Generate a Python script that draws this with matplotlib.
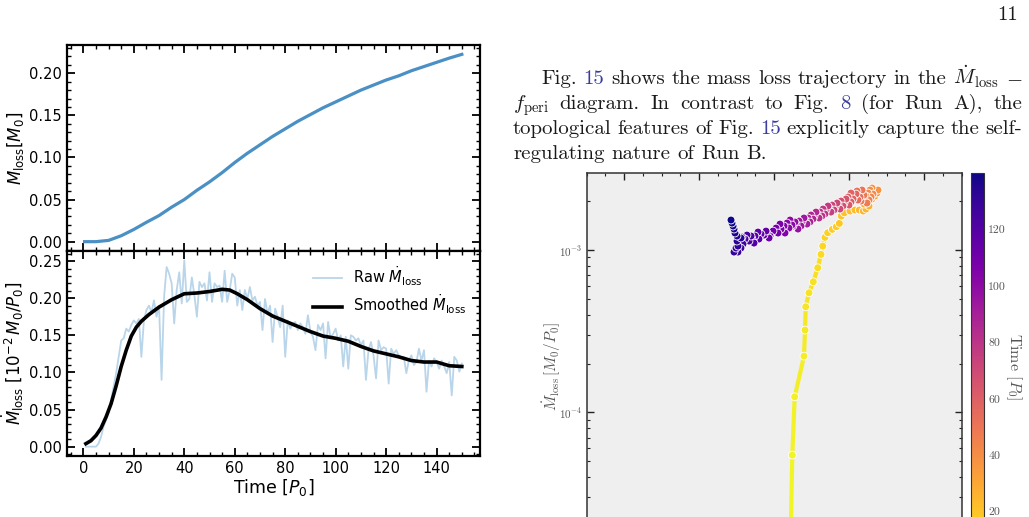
import numpy as np
import matplotlib
matplotlib.use("Agg")
import matplotlib.pyplot as plt
import matplotlib.colors as mcolors
from matplotlib.collections import LineCollection
from matplotlib.ticker import AutoMinorLocator, MultipleLocator, FuncFormatter, LogLocator, NullFormatter

plt.rcParams['font.family'] = ['DejaVu Sans']
plt.rcParams['mathtext.fontset'] = 'cm'

# ---------------- data: left chart ----------------
cum_t = [0.5, 5, 10, 15, 20, 25, 30, 35, 40, 45, 50, 55, 60, 65, 70, 75, 80, 85, 90, 95,
         100, 105, 110, 115, 120, 125, 130, 135, 140, 145, 150]
cum_m = [0.0, 0.0, 0.0015, 0.007, 0.0145, 0.023, 0.031, 0.041, 0.050, 0.061, 0.071, 0.082,
         0.094, 0.105, 0.115, 0.125, 0.134, 0.143, 0.151, 0.159, 0.166, 0.173, 0.180, 0.186,
         0.192, 0.197, 0.203, 0.208, 0.213, 0.218, 0.2225]

raw_t = np.arange(1, 151)
raw_v = [0, 0, 0, 0, 0, 0.004, 0.013, 0.027, 0.036, 0.045,
         0.063, 0.081, 0.099, 0.121, 0.143, 0.146, 0.159, 0.155, 0.164, 0.170,
         0.166, 0.172, 0.121, 0.170, 0.184, 0.190, 0.181, 0.197, 0.175, 0.190,
         0.090, 0.202, 0.242, 0.233, 0.220, 0.166, 0.211, 0.235, 0.193, 0.251,
         0.195, 0.199, 0.228, 0.204, 0.175, 0.222, 0.215, 0.220, 0.197, 0.235,
         0.195, 0.220, 0.215, 0.217, 0.195, 0.237, 0.195, 0.211, 0.233, 0.228,
         0.190, 0.211, 0.184, 0.211, 0.199, 0.215, 0.197, 0.202, 0.190, 0.195,
         0.157, 0.199, 0.179, 0.190, 0.141, 0.186, 0.175, 0.161, 0.190, 0.121,
         0.170, 0.159, 0.166, 0.168, 0.157, 0.166, 0.161, 0.152, 0.177, 0.155,
         0.148, 0.130, 0.164, 0.157, 0.166, 0.119, 0.168, 0.146, 0.152, 0.159,
         0.143, 0.150, 0.108, 0.148, 0.105, 0.150, 0.148, 0.143, 0.146, 0.137,
         0.143, 0.090, 0.130, 0.141, 0.123, 0.092, 0.143, 0.130, 0.134, 0.132,
         0.085, 0.132, 0.125, 0.130, 0.123, 0.119, 0.121, 0.099, 0.116, 0.123,
         0.110, 0.114, 0.132, 0.116, 0.130, 0.074, 0.116, 0.108, 0.119, 0.114,
         0.105, 0.116, 0.108, 0.099, 0.114, 0.069, 0.121, 0.116, 0.101, 0.112]

smooth_t = [1, 3, 5, 7, 9, 11, 13, 15, 17, 19, 21, 23, 26, 30, 35, 40, 45, 50, 55, 58, 61, 65,
            70, 75, 80, 85, 90, 95, 100, 105, 110, 115, 120, 125, 130, 135, 140, 145, 150]
smooth_v = [0.004, 0.008, 0.015, 0.025, 0.040, 0.058, 0.082, 0.108, 0.130, 0.149, 0.161, 0.169,
            0.178, 0.188, 0.198, 0.206, 0.207, 0.209, 0.212, 0.211, 0.206, 0.198, 0.186, 0.176,
            0.169, 0.162, 0.155, 0.149, 0.146, 0.142, 0.135, 0.129, 0.125, 0.121, 0.116, 0.114,
            0.114, 0.109, 0.108]

# ---------------- data: right scatter (time, f_peri, Mdot [1e-3 M0/P0]) ----------------
sc_t = np.arange(3, 141)
sc_f = [0.4208, 0.4221, 0.4241, 0.4273, 0.4397, 0.4411, 0.4420, 0.4464, 0.4521, 0.4580,
        0.4624, 0.4647, 0.4677, 0.4713, 0.4775, 0.4828, 0.4868, 0.4895, 0.4935, 0.5011,
        0.5077, 0.5135, 0.5188,
        0.5224, 0.5264, 0.5197, 0.5251, 0.5184, 0.5237, 0.5304, 0.5277, 0.5344, 0.5317,
        0.5371, 0.5344, 0.5384, 0.5304, 0.5277,
        0.5317, 0.5251, 0.5291, 0.5224, 0.5264, 0.5197, 0.5237, 0.5157, 0.5197, 0.5131,
        0.5171, 0.5104, 0.5144, 0.5077, 0.5117, 0.5051, 0.5091, 0.5024, 0.5051, 0.4984,
        0.5024, 0.4957, 0.4997, 0.4931, 0.4957, 0.4891, 0.4917, 0.4851, 0.4877, 0.4811,
        0.4837, 0.4771, 0.4797, 0.4731, 0.4757, 0.4691, 0.4717, 0.4651, 0.4677, 0.4611,
        0.4637, 0.4571, 0.4597, 0.4531, 0.4557, 0.4491, 0.4517, 0.4451, 0.4477, 0.4411,
        0.4437, 0.4371, 0.4397, 0.4331, 0.4357, 0.4291, 0.4317, 0.4251, 0.4277, 0.4211,
        0.4237, 0.4171, 0.4197, 0.4131, 0.4144, 0.4091, 0.4077, 0.4024, 0.4051, 0.3984,
        0.3944, 0.3904, 0.3931, 0.3864, 0.3891, 0.3824, 0.3797, 0.3784, 0.3744, 0.3704,
        0.3731, 0.3664, 0.3691, 0.3637, 0.3611, 0.3571, 0.3584, 0.3557, 0.3517, 0.3464,
        0.3491, 0.3517, 0.3504, 0.3557, 0.3504, 0.3477, 0.3464, 0.3451, 0.3437, 0.3424]
sc_m = [0.00994, 0.01883, 0.0546, 0.1248, 0.2222, 0.3215, 0.4473, 0.5455, 0.6378, 0.7777,
        0.9408, 1.058, 1.197, 1.278, 1.341, 1.392, 1.460, 1.620, 1.697, 1.739, 1.764, 1.764, 1.739,
        1.789, 1.867, 1.920, 2.004, 2.062, 2.121, 2.062, 2.182, 2.151, 2.277, 2.245, 2.376, 2.343,
        2.410, 2.343,
        2.213, 2.245, 2.121, 2.151, 2.033, 2.091, 1.948, 2.004, 2.182, 2.245,
        2.343, 2.310, 2.121, 2.182, 2.033, 2.091, 2.213, 2.245, 2.062, 2.121,
        1.976, 2.033, 1.893, 1.948, 2.062, 2.004, 1.867, 1.920, 1.789, 1.840,
        1.948, 1.893, 1.764, 1.814, 1.714, 1.764, 1.867, 1.789, 1.667, 1.714,
        1.620, 1.667, 1.575, 1.620, 1.714, 1.643, 1.552, 1.575, 1.488, 1.531,
        1.446, 1.488, 1.575, 1.509, 1.406, 1.446, 1.347, 1.406, 1.488, 1.531,
        1.426, 1.467, 1.366, 1.406, 1.273, 1.347, 1.446, 1.366, 1.273, 1.309,
        1.220, 1.273, 1.186, 1.237, 1.309, 1.255, 1.169, 1.291, 1.220, 1.169,
        1.104, 1.136, 1.220, 1.237, 1.169, 1.202, 1.089, 1.029, 0.972, 0.972,
        1.029, 1.058, 1.136, 1.186, 1.220, 1.273, 1.347, 1.406, 1.467, 1.531]
cbar_ticks = [20, 40, 60, 80, 100, 120]

# ---------------- figure ----------------
W, H = 1029, 517
fig = plt.figure(figsize=(W / 100, H / 100), dpi=100)


def px_axes(l, t, r, b):
    return [l / W, 1 - b / H, (r - l) / W, (b - t) / H]


MF = 'dejavusans'
ax1 = fig.add_axes(px_axes(66.7, 45, 480, 251))
ax2 = fig.add_axes(px_axes(66.7, 251, 480, 456), sharex=ax1)

ax1.plot(cum_t, cum_m, color='#4a90c4', lw=2.3)
ax2.plot(raw_t, raw_v, color='#b9d5ea', lw=1.3, label=r'Raw $\dot{M}_{\rm loss}$')
ax2.plot(smooth_t, smooth_v, color='black', lw=2.6, label=r'Smoothed $\dot{M}_{\rm loss}$')

ax1.set_xlim(-6.6, 157.2)
ax1.set_ylim(-0.0111, 0.2336)
ax2.set_ylim(-0.0126, 0.2636)
for ax in (ax1, ax2):
    ax.xaxis.set_major_locator(MultipleLocator(20))
    ax.yaxis.set_major_locator(MultipleLocator(0.05))
    ax.xaxis.set_minor_locator(AutoMinorLocator())
    ax.yaxis.set_minor_locator(AutoMinorLocator())
    ax.tick_params(which='both', direction='in', top=True, right=True, labelsize=10.5)
    ax.tick_params(which='major', length=6, width=1.3)
    ax.tick_params(which='minor', length=3, width=1.0)
    for s in ax.spines.values():
        s.set_linewidth(1.6)
ax1.tick_params(labelbottom=False)

ax1.set_ylabel(r'$M_{\rm loss} [M_0]$', fontsize=12, math_fontfamily=MF, labelpad=2)
ax2.set_ylabel(r'$\dot{M}_{\rm loss}$ [$10^{-2}\,M_0/P_0$]', fontsize=12, math_fontfamily=MF,
               labelpad=2)
ax2.set_xlabel(r'Time [$P_0$]', fontsize=12.5, math_fontfamily=MF, labelpad=1)
leg = ax2.legend(loc='upper right', frameon=False, fontsize=10.5, labelspacing=0.35)
for txt in leg.get_texts():
    txt.set_math_fontfamily(MF)

# ---------------- scatter ----------------
ax3 = fig.add_axes(px_axes(586.7, 173.3, 961.7, 559.6))
ax3.set_facecolor('#efefef')
ax3.set_yscale('log')
ax3.set_xlim(0.15, 0.65)
ax3.set_ylim(1.24e-5, 2.97e-3)

cmap = plt.get_cmap('plasma_r')
norm = mcolors.Normalize(vmin=3, vmax=140)
mdot = np.array(sc_m) * 1e-3
pts = np.column_stack([sc_f, mdot])
segs = np.stack([pts[:-1], pts[1:]], axis=1)
tmid = (sc_t[:-1] + sc_t[1:]) / 2
lc = LineCollection(segs, colors=cmap(norm(tmid)), linewidths=3.0, zorder=2, capstyle='round')
ax3.add_collection(lc)
sc = ax3.scatter(sc_f, mdot, c=sc_t, cmap=cmap, norm=norm, s=32,
                 edgecolors='white', linewidths=0.6, zorder=3)

ax3.xaxis.set_major_locator(MultipleLocator(0.1))
ax3.xaxis.set_minor_locator(MultipleLocator(0.025))
ax3.yaxis.set_major_locator(LogLocator(base=10))
ax3.yaxis.set_minor_locator(LogLocator(base=10, subs=np.arange(2, 10)))
ax3.yaxis.set_major_formatter(FuncFormatter(lambda v, p: r'$10^{%d}$' % int(round(np.log10(v)))))
ax3.yaxis.set_minor_formatter(NullFormatter())
ax3.tick_params(which='both', direction='in', top=True, right=True, labelbottom=False,
                labelsize=8, labelcolor='#555555', colors='#222222')
ax3.tick_params(which='major', length=5, width=1.0)
ax3.tick_params(which='minor', length=2.5, width=0.8)
for s in ax3.spines.values():
    s.set_linewidth(1.1)
    s.set_color('#333333')
ax3.set_ylabel(r'$\dot{M}_{\rm loss}\,[M_0/P_0]$', fontsize=11, color='#555555')
ax3.yaxis.set_label_coords(-0.062, 0.5)

cax = fig.add_axes(px_axes(971, 173.3, 984, 559.6))
cb = fig.colorbar(sc, cax=cax)
cb.set_ticks(cbar_ticks)
cb.ax.tick_params(length=0, labelsize=8.5, labelcolor='#555555', pad=3, labelfontfamily='cmr10')
cb.outline.set_edgecolor('#333333')
cb.set_label(r'Time [$P_0$]', rotation=270, family='cmr10', fontsize=11.5, color='#555555',
             labelpad=13)

# ---------------- body text (justified) ----------------
FS = 15.0
K = '#1a1a1a'
B = '#3a3d9e'
renderer = fig.canvas.get_renderer()


def place_line(tokens, x0, x1, ybase, justify=True):
    objs = []
    for s, c in tokens:
        t = fig.text(0, 1 - ybase / H, s, color=c, fontsize=FS, family='cmr10',
                     ha='left', va='baseline')
        objs.append(t)
    widths = [t.get_window_extent(renderer=renderer).width for t in objs]
    if justify and len(objs) > 1:
        gap = (x1 - x0 - sum(widths)) / (len(objs) - 1)
    else:
        gap = 6.9
    x = x0
    for t, w in zip(objs, widths):
        t.set_x(x / W)
        x += w + gap


line1 = [("Fig.", K), ("15", B), ("shows", K), ("the", K), ("mass", K), ("loss", K),
         ("trajectory", K), ("in", K), ("the", K), (r"$\dot{M}_{\rm loss}$", K), (r"$-$", K)]
line2 = [(r"$f_{\rm peri}$", K), ("diagram.", K), ("In", K), ("contrast", K), ("to", K),
         ("Fig.", K), ("8", B), ("(for", K), ("Run", K), ("A),", K), ("the", K)]
line3 = [("topological", K), ("features", K), ("of", K), ("Fig.", K), ("15", B),
         ("explicitly", K), ("capture", K), ("the", K), ("self-", K)]
line4 = [("regulating", K), ("nature", K), ("of", K), ("Run", K), ("B.", K)]

place_line(line1, 541, 1022, 84)
place_line(line2, 513, 1022, 109)
place_line(line3, 513, 1022, 134)
place_line(line4, 513, 1022, 159, justify=False)

fig.text(1018 / W, 1 - 20 / H, "11", fontsize=FS, family='cmr10', color=K, ha='right', va='baseline')

fig.savefig('out.png', dpi=100)
